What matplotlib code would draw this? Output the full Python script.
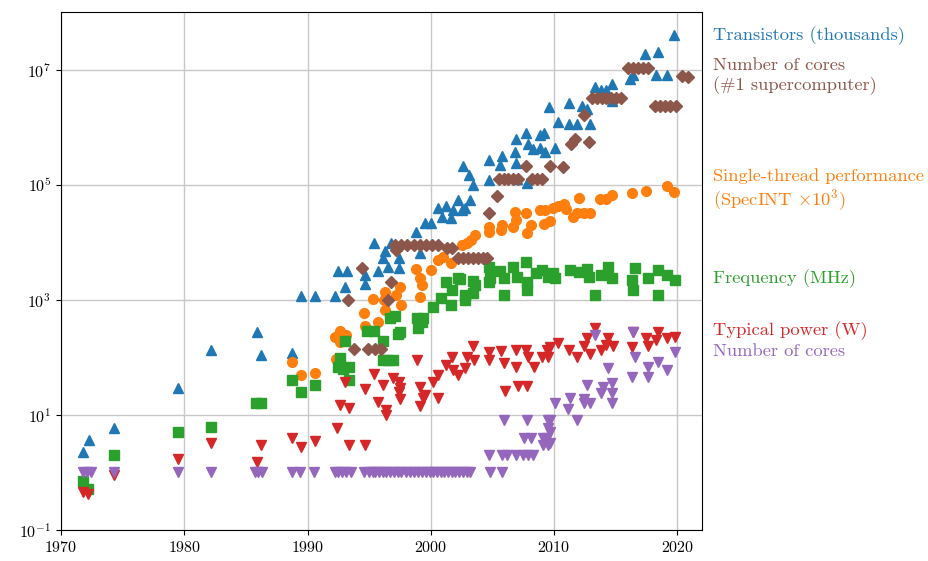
import matplotlib
matplotlib.use("Agg")
import matplotlib.pyplot as plt
from matplotlib.ticker import FixedLocator, LogFormatterSciNotation, NullLocator

plt.rcParams.update({
    "font.family": "serif",
    "font.serif": ["cmr10", "DejaVu Serif"],
    "mathtext.fontset": "cm",
    "axes.formatter.use_mathtext": True,
    "font.size": 11.5,
})

# transistors (thousands)
tr_year = [1971.8, 1972.3, 1974.3, 1979.5, 1982.2, 1985.9, 1986.2, 1988.7, 1989.5, 1990.6,
           1992.2, 1992.5, 1993.0, 1993.2, 1994.7, 1994.7, 1995.4, 1995.7, 1996.1, 1996.3,
           1996.5, 1996.8, 1997.4, 1997.4, 1998.8, 1999.1, 1999.5, 2000.0, 2000.6, 2000.9,
           2001.2, 2001.6, 2001.8, 2002.2, 2002.5, 2002.8, 2003.2, 2002.6, 2003.1, 2003.4,
           2004.7, 2004.7, 2005.8, 2005.6, 2006.9, 2006.8, 2006.9, 2007.0, 2007.8, 2007.7,
           2007.9, 2008.3, 2008.9, 2008.9, 2009.2, 2009.3, 2009.6, 2010.1, 2010.3, 2011.2,
           2011.2, 2011.9, 2012.3, 2012.7, 2012.9, 2013.3, 2013.8, 2014.2, 2014.7, 2014.7,
           2016.2, 2016.4, 2017.4, 2018.3, 2018.4, 2019.2, 2019.7]
tr_val = [2.3, 3.6, 6, 29, 134, 275, 110, 120, 1180, 1180,
          1180, 3100, 1700, 3100, 2700, 1900, 9800, 3100, 5400, 6900,
          3700, 9800, 3500, 5400, 15000, 6600, 22000, 22000, 39000, 27500,
          43000, 26000, 37000, 55000, 37000, 40000, 55000, 215000, 150000, 100000,
          270000, 120000, 310000, 220000, 610000, 370000, 240000, 123000, 107000, 790000,
          500000, 410000, 740000, 440000, 790000, 370000, 2.2e6, 430000, 1.25e6, 1.15e6,
          2.6e6, 1.15e6, 2.3e6, 2.1e6, 1.15e6, 5e6, 4.5e6, 4.5e6, 5.7e6, 2.8e6,
          6.9e6, 8e6, 1.9e7, 8e6, 2e7, 8e6, 4e7]

# single-thread performance (SpecINT x 10^3)
st_year = [1988.7, 1989.5, 1990.6, 1992.3, 1992.2, 1992.6, 1992.8, 1993.1, 1992.6, 1994.6,
           1994.7, 1995.3, 1995.7, 1996.3, 1996.2, 1996.3, 1997.2, 1997.5, 1997.6, 1998.8,
           1999.1, 1999.3, 1999.1, 2000.0, 2000.6, 2001.0, 2001.6, 2002.5, 2002.9, 2003.3,
           2003.6, 2004.7, 2004.7, 2005.8, 2005.7, 2006.7, 2006.8, 2006.9, 2007.7, 2007.8,
           2008.1, 2008.9, 2009.3, 2009.2, 2009.7, 2009.9, 2010.3, 2010.8, 2011.0, 2011.5,
           2011.9, 2012.4, 2012.9, 2012.0, 2013.75, 2014.2, 2014.7, 2016.3, 2017.5, 2019.2,
           2019.7]
st_val = [83, 50, 54, 95, 230, 290, 245, 245, 185, 590,
          355, 1050, 415, 1380, 1000, 670, 1230, 1700, 810, 3400,
          2400, 1800, 1120, 3300, 5000, 5600, 4400, 9100, 9800, 11000,
          13500, 18600, 15000, 20000, 16600, 18600, 34000, 24500, 32000, 14500,
          20000, 37000, 37000, 21000, 23000, 40000, 42000, 47000, 38000, 27000,
          32000, 32000, 32000, 59000, 57000, 57000, 67000, 72000, 79000, 93000,
          76000]

# frequency (MHz)
fr_year = [1971.8, 1972.2, 1974.3, 1979.5, 1982.2, 1985.8, 1986.2, 1988.7, 1989.5, 1990.6,
           1992.5, 1992.9, 1993.4, 1993.4, 1993.0, 1992.6, 1994.8, 1995.4, 1996.1, 1997.3,
           1996.1, 1996.5, 1996.9, 1997.1, 1996.7, 1997.5, 1998.9, 1999.0, 1999.4, 1999.3,
           2000.2, 2000.8, 2001.2, 2001.6, 2001.7, 2002.2, 2002.8, 2002.8, 2002.4, 2003.4,
           2003.6, 2003.4, 2004.7, 2004.7, 2004.8, 2005.6, 2005.9, 2005.9, 2006.7, 2007.0,
           2007.7, 2007.8, 2007.8, 2008.5, 2009.0, 2009.5, 2009.9, 2010.1, 2011.3, 2012.0,
           2012.7, 2012.8, 2013.3, 2013.8, 2014.4, 2014.7, 2016.3, 2016.4, 2016.6, 2017.6,
           2018.4, 2018.4, 2019.2, 2019.8]
fr_val = [0.71, 0.51, 2, 5, 6.2, 16, 16, 40, 25, 33,
          68, 63, 68, 40, 195, 98, 290, 290, 195, 250,
          90, 90, 90, 525, 480, 275, 480, 325, 480, 415,
          760, 1070, 2000, 810, 1480, 2350, 1000, 1230, 2250, 2100,
          1800, 1300, 3700, 2000, 2400, 3100, 2400, 1230, 3700, 2500,
          4600, 2000, 1480, 2950, 3300, 2500, 2950, 2400, 3300, 3000,
          3400, 2500, 1230, 2700, 3700, 2400, 2200, 1480, 3600, 2400,
          3300, 1230, 2700, 2200]

# typical power (W)
pw_year = [1971.8, 1972.2, 1974.3, 1979.5, 1982.2, 1985.9, 1986.2, 1988.7, 1989.5, 1990.6,
           1992.4, 1993.0, 1992.6, 1993.4, 1993.4, 1994.7, 1994.7, 1995.4, 1995.7, 1996.1,
           1996.4, 1996.4, 1996.9, 1997.4, 1997.5, 1997.4, 1997.5, 1998.9, 1999.1, 1999.5,
           1999.1, 1999.4, 2000.6, 2000.2, 2000.6, 2001.2, 2001.7, 2001.8, 2002.2, 2002.8,
           2002.9, 2003.4, 2003.5, 2004.7, 2004.7, 2005.7, 2005.9, 2006.0, 2006.9, 2006.9,
           2007.1, 2007.7, 2007.9, 2007.8, 2008.4, 2009.0, 2009.4, 2009.5, 2009.7, 2010.3,
           2011.2, 2011.9, 2012.4, 2012.9, 2012.7, 2013.3, 2013.8, 2014.2, 2014.4, 2014.8,
           2016.3, 2016.4, 2017.5, 2017.6, 2018.3, 2018.4, 2019.2, 2019.8]
pw_val = [0.46, 0.43, 0.9, 1.7, 3.2, 1.5, 3, 4, 2.8, 3.5,
          5.9, 37, 15, 13, 3, 3, 28, 51, 17, 33,
          12, 10, 44, 37, 29, 25, 19, 91, 31, 22,
          14.5, 20, 20, 37, 50, 74, 100, 60, 50, 66,
          100, 158, 91, 125, 91, 130, 80, 26, 135, 68,
          32, 135, 100, 32, 68, 100, 135, 100, 150, 180,
          135, 100, 155, 115, 220, 325, 135, 165, 220, 155,
          150, 270, 220, 155, 200, 270, 220, 230]

# number of cores
co_year = [1971.8, 1972.1, 1972.4, 1974.3, 1979.5, 1982.2, 1985.7, 1986.0, 1986.3, 1988.7,
           1989.4, 1990.5, 1992.2, 1992.5, 1992.8, 1993.1, 1993.5, 1994.6, 1995.0, 1995.3,
           1995.5, 1995.8, 1996.1, 1996.4, 1996.7, 1997.0, 1997.3, 1997.6, 1998.0, 1998.3,
           1998.6, 1999.0, 1999.3, 1999.6, 1999.9, 2000.2, 2000.5, 2000.8, 2001.1, 2001.4,
           2001.7, 2002.0, 2002.3, 2002.6, 2002.9, 2003.2, 2004.8, 2005.8,
           2004.7, 2005.8, 2006.2, 2006.9, 2007.5, 2007.9, 2008.3,
           2007.6, 2008.1, 2009.1, 2009.4, 2005.9, 2007.8, 2009.5, 2009.1, 2009.5, 2009.5,
           2009.7, 2009.7, 2009.7, 2010.1, 2011.1, 2011.3, 2011.9, 2012.4, 2012.4, 2012.7,
           2012.9, 2013.8, 2014.0, 2014.4, 2014.7, 2014.7, 2014.7, 2013.3, 2016.3, 2016.4,
           2016.6, 2017.6, 2017.6, 2018.4, 2019.2, 2019.8]
co_val = [1, 1, 1, 1, 1, 1, 1, 1, 1, 1,
          1, 1, 1, 1, 1, 1, 1, 1, 1, 1,
          1, 1, 1, 1, 1, 1, 1, 1, 1, 1,
          1, 1, 1, 1, 1, 1, 1, 1, 1, 1,
          1, 1, 1, 1, 1, 1, 1, 1,
          2, 2, 2, 2, 2, 2, 2,
          4, 4, 4, 4, 8, 8, 8, 3, 3, 6,
          8, 5, 3.2, 16, 12.6, 20, 8, 16, 19, 33,
          16, 24, 31, 66, 36, 24, 16, 245, 46, 275,
          100, 67, 46, 83, 60, 125]

# number of cores of the #1 supercomputer
sc_year = [1993.3, 1994.4, 1993.8, 1994.9, 1995.5, 1996.0, 1996.5, 1996.8, 1997.2,
           1997.1, 1997.6, 1998.1, 1998.6, 1999.1, 1999.6, 2000.1, 2000.6, 2001.3, 2001.7,
           2002.2, 2002.6, 2003.0, 2003.4, 2003.8, 2004.2, 2004.6, 2004.7, 2005.4,
           2005.5, 2005.9, 2006.3, 2006.7, 2007.1, 2008.2, 2008.6, 2009.0, 2007.7, 2009.7,
           2010.7, 2011.4, 2011.7, 2012.4, 2012.8,
           2013.1, 2013.5, 2013.9, 2014.2, 2014.6, 2015.0, 2015.4,
           2016.0, 2016.4, 2016.8, 2017.2, 2017.6,
           2018.2, 2018.6, 2019.0, 2019.4, 2019.9, 2020.4, 2020.9]
sc_val = [1000, 3600, 140, 140, 140, 140, 1000, 2050, 7400,
          9100, 9100, 9100, 9100, 9100, 9100, 9100, 9100, 7900, 7900,
          5400, 5400, 5400, 5400, 5400, 5400, 5400, 32000, 63000,
          126000, 126000, 126000, 126000, 126000, 126000, 126000, 126000, 214000, 214000,
          205000, 510000, 630000, 1.6e6, 560000,
          3.2e6, 3.2e6, 3.2e6, 3.2e6, 3.2e6, 3.2e6, 3.2e6,
          1.06e7, 1.06e7, 1.06e7, 1.06e7, 1.06e7,
          2.35e6, 2.35e6, 2.35e6, 2.35e6, 2.35e6, 7.6e6, 7.5e6]

fig = plt.figure(figsize=(9.29, 5.61), dpi=100)
ax = fig.add_axes([0.0657, 0.0553, 0.6899, 0.9233])

ax.plot(tr_year, tr_val, "^", color="#1f77b4", ms=6.5, ls="none")
ax.plot(st_year, st_val, "o", color="#ff7f0e", ms=7, ls="none")
ax.plot(fr_year, fr_val, "s", color="#2ca02c", ms=6.5, ls="none")
ax.plot(pw_year, pw_val, "v", color="#d62728", ms=6.5, ls="none")
ax.plot(co_year, co_val, "v", color="#9467bd", ms=6.5, ls="none")
ax.plot(sc_year, sc_val, "D", color="#8c564b", ms=6, ls="none")

ax.set_yscale("log")
ax.set_xlim(1970, 2022)
ax.set_ylim(1e-1, 1e8)
ax.yaxis.set_major_locator(FixedLocator([1e-1, 1e1, 1e3, 1e5, 1e7]))
ax.yaxis.set_major_formatter(LogFormatterSciNotation())
ax.yaxis.set_minor_locator(NullLocator())
ax.set_xticks([1970, 1980, 1990, 2000, 2010, 2020])
ax.grid(True, color="#c8c8c8", lw=1)
ax.set_axisbelow(True)
ax.tick_params(labelsize=11.5)

tx = 1.017
fs = 13.3
trans = ax.get_yaxis_transform()
ax.text(tx, 3.9e7, "Transistors (thousands)", color="#1f77b4", transform=trans, va="center", fontsize=fs)
ax.text(tx, 7.6e6, "Number of cores\n(#1 supercomputer)", color="#8c564b", transform=trans, va="center", fontsize=fs)
ax.text(tx, 7.8e4, "Single-thread performance\n(SpecINT $\\times 10^3$)", color="#ff7f0e", transform=trans, va="center", fontsize=fs)
ax.text(tx, 2.35e3, "Frequency (MHz)", color="#2ca02c", transform=trans, va="center", fontsize=fs)
ax.text(tx, 2.9e2, "Typical power (W)", color="#d62728", transform=trans, va="center", fontsize=fs)
ax.text(tx, 1.25e2, "Number of cores", color="#9467bd", transform=trans, va="center", fontsize=fs)

fig.savefig("out.png", dpi=100)
